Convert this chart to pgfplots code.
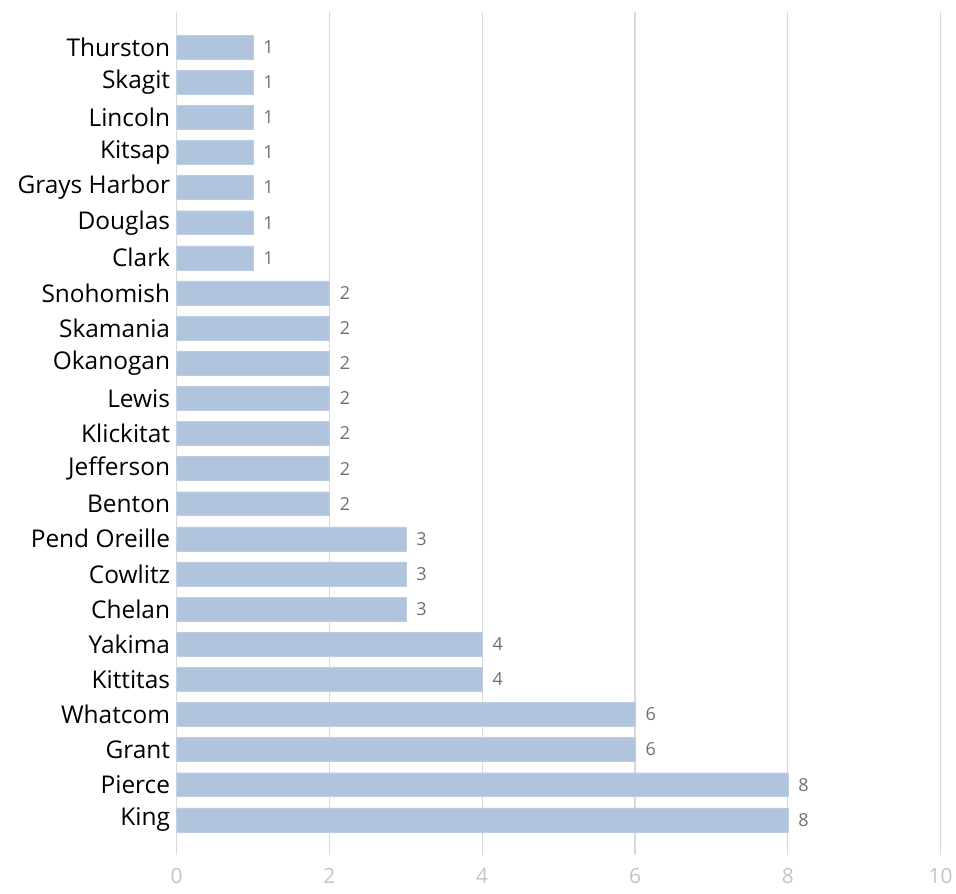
\documentclass[border=0pt]{standalone}
\usepackage{pgfplots}
\pgfplotsset{compat=1.18}
\usepackage{fontspec}
\setmainfont{Open Sans}
\definecolor{barc}{HTML}{B0C4DE}
\definecolor{gridc}{HTML}{D9D9D9}
\definecolor{valc}{HTML}{707070}
\definecolor{tickc}{HTML}{C4C4C4}
\begin{document}
\begin{tikzpicture}
\begin{axis}[
  name=ax,
  scale only axis,
  width=766bp, height=845bp,
  xbar, bar width=24bp,
  xmin=0, xmax=10, ymin=-1, ymax=23,
  xtick={0,2,4,6,8,10},
  ytick={0,...,22},
  yticklabels={King,Pierce,Grant,Whatcom,Kittitas,Yakima,Chelan,Cowlitz,Pend Oreille,Benton,Jefferson,Klickitat,Lewis,Okanogan,Skamania,Snohomish,Clark,Douglas,Grays Harbor,Kitsap,Lincoln,Skagit,Thurston},
  xmajorgrids,
  grid style={gridc, line width=1.2bp},
  axis line style={draw=none},
  tick style={draw=none},
  major tick length=0pt,
  yticklabel style={font=\fontsize{24.5bp}{28bp}\selectfont, text=black, xshift=-3bp},
  xticklabel style={font=\fontsize{21bp}{24bp}\selectfont, text=tickc, yshift=-10bp},
  /pgf/number format/assume math mode=true,
  nodes near coords,
  nodes near coords align={horizontal},
  every node near coord/.append style={font=\fontsize{18bp}{21bp}\selectfont, text=valc, xshift=7bp},
]
\addplot[fill=barc, draw=barc!85!white] coordinates {
(8,0) (8,1) (6,2) (6,3) (4,4) (4,5) (3,6) (3,7) (3,8)
(2,9) (2,10) (2,11) (2,12) (2,13) (2,14) (2,15)
(1,16) (1,17) (1,18) (1,19) (1,20) (1,21) (1,22)};
\end{axis}
\path[use as bounding box] ([xshift=-177bp,yshift=-39bp]ax.south west) rectangle ([xshift=13bp,yshift=12bp]ax.north east);
\end{tikzpicture}
\end{document}
